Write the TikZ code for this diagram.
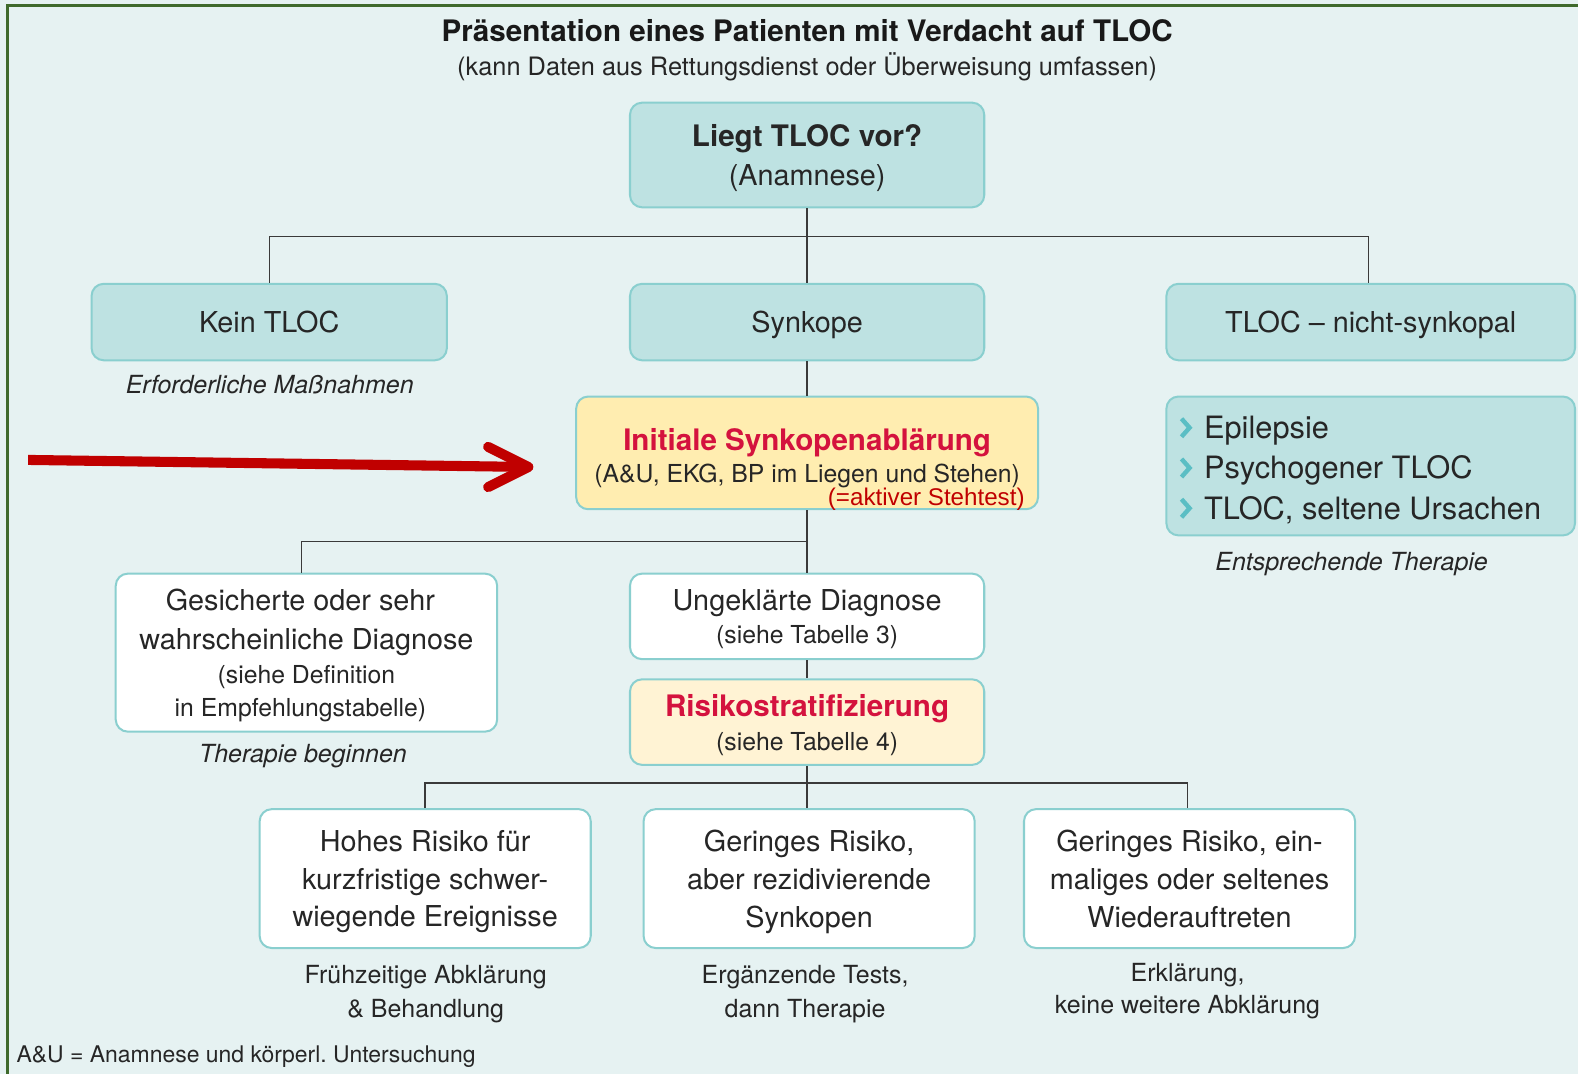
\documentclass[tikz,border=0pt]{standalone}
\usepackage{fontspec}
\setmainfont{TeX Gyre Heros}
\newfontfamily\arialfont{Liberation Sans}
\usetikzlibrary{calc}
\frenchspacing

\definecolor{bgpanel}{HTML}{E6F2F2}
\definecolor{framegreen}{HTML}{3F6A2C}
\definecolor{tealfill}{HTML}{BEE2E2}
\definecolor{tealedge}{HTML}{8ACFCF}
\definecolor{tealmark}{HTML}{5BBEC4}
\definecolor{yellowfill}{HTML}{FFEDB0}
\definecolor{paleyellow}{HTML}{FFF3D4}
\definecolor{headred}{HTML}{D4123E}
\definecolor{notered}{HTML}{C00000}
\definecolor{inktext}{HTML}{262626}
\definecolor{linkgrey}{HTML}{3A3A3A}

\newcommand\fTitle{\fontsize{14.7}{18}\selectfont\bfseries}
\newcommand\fSub{\fontsize{12.6}{16}\selectfont}
\newcommand\fBody{\fontsize{14.3}{18.8}\selectfont}
\newcommand\fHead{\fontsize{14.7}{18.8}\selectfont\bfseries}
\newcommand\fSmall{\fontsize{12.3}{16.5}\selectfont}
\newcommand\fLabel{\fontsize{12.4}{16.5}\selectfont}
\newcommand\fList{\fontsize{15.3}{20.3}\selectfont}
\newcommand\fFoot{\fontsize{11.4}{14}\selectfont}

\tikzset{
  box/.style={draw=tealedge, line width=1pt, rounded corners=6pt, align=center,
    inner sep=0pt, text=inktext, font=\fBody, text depth=0pt},
  tealbox/.style={box, fill=tealfill},
  whitebox/.style={box, fill=white},
  yellowbox/.style={box, fill=yellowfill},
  paleybox/.style={box, fill=paleyellow},
  link/.style={draw=linkgrey, line width=0.7pt},
  lbl/.style={text=inktext, align=center, inner sep=0pt},
  remark/.style={lbl, font=\fLabel\itshape, text depth=0pt},
  outcome/.style={lbl, font=\fLabel, text depth=0pt},
  chevron/.style={draw=tealmark, line width=2.2pt},
  pointer/.style={draw=notered, line width=5pt, line cap=round, line join=round},
}

\begin{document}
\begin{tikzpicture}[x=0.5pt,y=-0.5pt]
% panel and frame
\useasboundingbox (0,0) rectangle (1568,1067);
\fill[bgpanel] (0,0) rectangle (1568,1067);
\draw[framegreen, line width=1.5pt] (7,1067) -- (7,5) -- (1568,5);

% heading
\node[lbl, font=\fTitle, text=black!90] (title) at (802,30)
  {Präsentation eines Patienten mit Verdacht auf TLOC};
\node[lbl, font=\fSub] (subtitle) at (802,66)
  {(kann Daten aus Rettungsdienst oder Überweisung umfassen)};

% first level
\node[tealbox, minimum width=176pt, minimum height=52pt] (tloc) at (802,154)
  {{\fHead Liegt TLOC vor?}\\[0.2pt](Anamnese)};
\node[tealbox, minimum width=176.5pt, minimum height=38pt] (none) at (267.5,320) {Kein TLOC};
\node[tealbox, minimum width=176pt, minimum height=38pt] (syn) at (802,320) {Synkope};
\node[tealbox, minimum width=203pt, minimum height=38pt] (nsync) at (1362,320) {TLOC -- nicht-synkopal};

\node[remark] (noneact) at (268,382) {Erforderliche Maßnahmen};

% initial evaluation
\node[yellowbox, minimum width=229.5pt, minimum height=56pt] (init) at (802,450)
  {{\fHead\color{headred}\rule{0pt}{13.6pt}Initiale Synkopenablärung}\\[-2.6pt]{\fSmall (A\&U, EKG, BP im Liegen und Stehen)}};
\node[lbl, anchor=base east, font=\arialfont\fontsize{12}{14}\selectfont, text=notered] (stand)
  at ($(init.south east)+(-14,-5)$) {(=aktiver Stehtest)};

% non-syncopal forms
\node[tealbox, minimum width=203pt, minimum height=69pt] (forms) at (1362,463) {};
\node[lbl, anchor=west, align=left, font=\fList] (formlist) at (1196,467)
  {Epilepsie\\Psychogener TLOC\\TLOC, seltene Ursachen};
\foreach \yy in {425,465,505}
  \draw[chevron] (1174,\yy-9) -- (1182,\yy) -- (1174,\yy+9);
\node[remark] (formact) at (1343,558) {Entsprechende Therapie};

% arrow pointing at the initial evaluation
\coordinate (arrowtail) at (28,457);
\coordinate (arrowtip) at (525,464);
\draw[pointer, line cap=butt] (arrowtail) -- (arrowtip);
\draw[pointer] ($(arrowtip)+(-40,-20)$) -- (arrowtip) -- ($(arrowtip)+(-40,20)$);

% diagnosis level
\node[whitebox, minimum width=189.5pt, minimum height=78.5pt] (sure) at (304.5,648.5)
  {Gesicherte oder sehr\hspace*{6pt}\\[0.7pt]wahrscheinliche Diagnose\hspace*{6pt}\\[-2.3pt]{\fSmall (siehe Definition\hspace*{6pt}}\\[-2.3pt]{\fSmall in Empfehlungstabelle)\hspace*{6pt}}};
\node[remark] (sureact) at (301,749) {Therapie beginnen};
\node[whitebox, minimum width=176pt, minimum height=42.5pt] (open) at (802,612.5)
  {Ungeklärte Diagnose\\[-2.3pt]{\fSmall (siehe Tabelle 3)}};
\node[paleybox, minimum width=176pt, minimum height=42.5pt] (risk) at (802,717.5)
  {{\fHead\color{headred}Risikostratifizierung}\\[-1.8pt]{\fSmall (siehe Tabelle 4)}};

% risk groups
\node[whitebox, minimum width=164.5pt, minimum height=69pt] (high) at (422.5,873)
  {Hohes Risiko für\\kurzfristige schwer-\\wiegende Ereignisse};
\node[whitebox, minimum width=164.5pt, minimum height=69pt] (rec) at (804,873)
  {Geringes Risiko,\\aber rezidivierende\\Synkopen};
\node[whitebox, minimum width=164.5pt, minimum height=69pt] (once) at (1182,873)
  {Geringes Risiko, ein-\\maliges oder seltenes\\Wiederauftreten};

\node[outcome] (highact) at (423,985) {Frühzeitige Abklärung\\\& Behandlung};
\node[outcome] (recact) at (800,985) {Ergänzende Tests,\\dann Therapie};
\node[outcome] (onceact) at (1180,982) {Erklärung,\\[-0.5pt]keine weitere Abklärung};

% footnote
\node[lbl, anchor=west, font=\fFoot] (abbr) at (16,1050) {A\&U = Anamnese und körperl. Untersuchung};

% connectors
\coordinate (fork1) at (802,235);
\coordinate (fork2) at (802,538);
\coordinate (fork3) at (802,778);
\draw[link] (tloc) -- (syn);
\draw[link] (none.north) |- (fork1) -| ([xshift=-1pt]nsync.north);
\draw[link] (syn) -- (init);
\draw[link] (init) -- (open);
\draw[link] ([xshift=-2.5pt]sure.north) |- (fork2);
\draw[link] (open) -- (risk);
\draw[link] (risk.south) -- (risk.south |- rec.north);
\draw[link] (high.north) |- (fork3) -| ([xshift=-1pt]once.north);
\end{tikzpicture}
\end{document}
